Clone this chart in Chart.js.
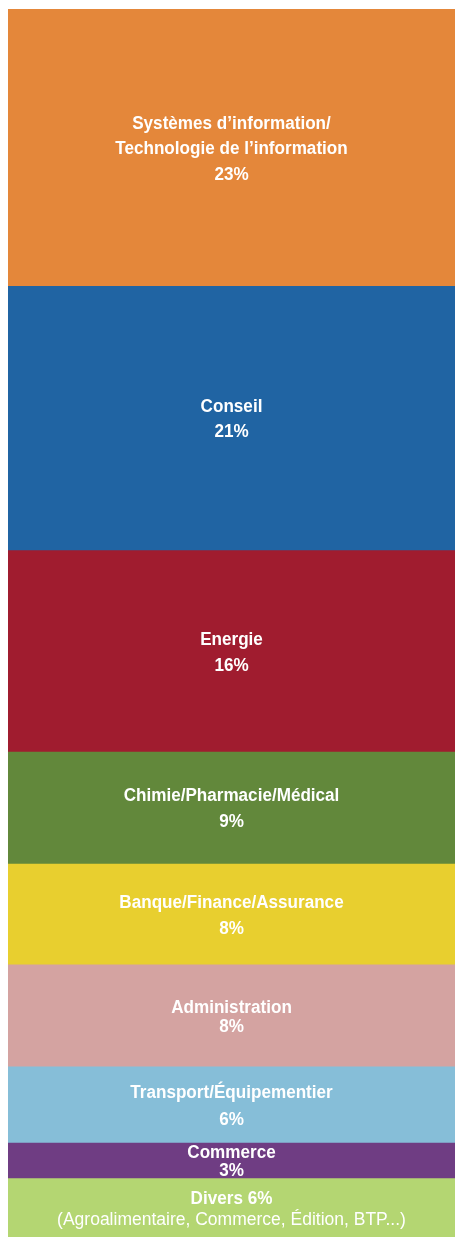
<!DOCTYPE html>
<html>
<head>
<meta charset="utf-8">
<script src="https://cdn.jsdelivr.net/npm/chart.js@4"></script>
<style>
  html, body { margin: 0; padding: 0; background: #fff; }
  #wrap { width: 455px; height: 1238px; }
</style>
</head>
<body>
<div id="wrap"><canvas id="graf"></canvas></div>
<script>
// Secteurs, du haut vers le bas
const secteurs = [
  ['Systèmes d’information/', 'Technologie de l’information'],
  ['Conseil'],
  ['Energie'],
  ['Chimie/Pharmacie/Médical'],
  ['Banque/Finance/Assurance'],
  ['Administration'],
  ['Transport/Équipementier'],
  ['Commerce'],
  ['Divers']
];
// Pourcentages affichés
const parts = [23, 21, 16, 9, 8, 8, 6, 3, 6];
// Hauteur réelle de chaque bloc dans l'image (en % de la colonne)
const hauteurs = [22.5, 21.5, 16.4, 9.1, 8.2, 8.3, 6.2, 2.9, 4.8];
const detailDivers = '(Agroalimentaire, Commerce, Édition, BTP...)';

const couleurs = ['#e4873a', '#2064a3', '#a01c2f', '#62883b', '#e8cf2f',
                  '#d4a3a1', '#86bed8', '#6f3d83', '#b4d672'];
// interligne par bloc
const interligne = [25.5, 25, 26, 26, 26, 19, 27, 18, 21];

const total = hauteurs.reduce((a, b) => a + b, 0);

// Textes au centre de chaque bloc
const etiquettes = {
  id: 'etiquettes',
  afterDatasetsDraw(chart) {
    const ctx = chart.ctx;
    ctx.fillStyle = '#fff';
    ctx.textAlign = 'center';
    ctx.textBaseline = 'middle';
    chart.data.datasets.forEach((ds, i) => {
      const el = chart.getDatasetMeta(i).data[0];
      const cx = (chart.chartArea.left + chart.chartArea.right) / 2;
      const cy = (el.y + el.base) / 2 + 2;
      let lignes;
      if (i === secteurs.length - 1) {
        lignes = [[secteurs[i][0] + ' ' + parts[i] + '%', true],
                  [detailDivers, false]];
      } else {
        lignes = secteurs[i].map(t => [t, true]);
        lignes.push([parts[i] + '%', true]);
      }
      const h = interligne[i];
      const y0 = cy - (lignes.length - 1) * h / 2;
      lignes.forEach(([t, gras], k) => {
        ctx.save();
        ctx.translate(cx, y0 + k * h);
        if (gras) {
          ctx.font = 'bold 18px "Liberation Sans", Arial';
          ctx.scale(0.95, 1);   // police un peu étroite
        } else {
          ctx.font = '17.5px "Liberation Sans", Arial';
        }
        ctx.fillText(t, 0, 0);
        ctx.restore();
      });
    });
  }
};

new Chart(document.getElementById('graf'), {
  type: 'bar',
  data: {
    labels: [''],
    datasets: hauteurs.map((v, i) => ({
      label: secteurs[i].join(' '),
      data: [v],
      backgroundColor: couleurs[i],
      borderWidth: 0,
      categoryPercentage: 1,
      barPercentage: 1
    }))
  },
  options: {
    responsive: true,
    maintainAspectRatio: false,
    animation: false,
    layout: { padding: { left: 8, right: 0, top: 9, bottom: 1 } },
    plugins: { legend: { display: false }, tooltip: { enabled: false } },
    scales: {
      x: { stacked: true, display: false },
      y: { stacked: true, display: false, reverse: true, min: 0, max: total }
    }
  },
  plugins: [etiquettes]
});
</script>
</body>
</html>
